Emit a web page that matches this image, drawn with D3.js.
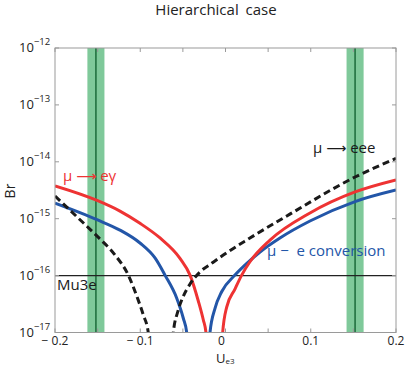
<!DOCTYPE html>
<html><head><meta charset="utf-8">
<script src="https://cdn.jsdelivr.net/npm/d3@7"></script>
<style>body{margin:0;background:#fff}svg{display:block}text{font-family:"Open Sans",sans-serif}</style>
</head><body><svg id="c" width="406" height="367"></svg>
<script>
// ---- data ----
const title = "Hierarchical case";
const xTicksMajor = [-0.2, -0.1, 0, 0.1, 0.2];
const xTickLabels = ["\u2212 0.2", "\u2212 0.1", "0", "0.1", "0.2"];
const xTicksMinor = [-0.2,-0.15,-0.1,-0.05,0,0.05,0.1,0.15,0.2];
const yTickExps = [-12, -13, -14, -15, -16, -17];
const bandCenters = [-0.152, 0.152];
const bandHalfWidth = 0.01;
const mu3eLimit = 1e-16;

// mu -> e gamma (red), two branches
const redLeftU  = [-0.2, -0.15, -0.1238, -0.1003, -0.0768, -0.0534, -0.0416, -0.0319, -0.026, -0.0229, -0.0215];
const redLeftBr = [3.76e-15, 2.07e-15, 1.36e-15, 8.3e-16, 4.58e-16, 2.01e-16, 1.02e-16, 3.58e-17, 1.66e-17, 1.0e-17, 5e-18];
const redRightU  = [-0.0045, -0.0033, 0.0014, 0.0111, 0.019, 0.0287, 0.0522, 0.0991, 0.152, 0.2];
const redRightBr = [5e-18, 1.0e-17, 2.8e-17, 5.8e-17, 1.02e-16, 1.75e-16, 4.2e-16, 1.26e-15, 2.95e-15, 4.8e-15];
// mu - e conversion (blue)
const blueLeftU  = [-0.2, -0.15, -0.1238, -0.1003, -0.0827, -0.071, -0.0572, -0.0495, -0.0455, -0.0442];
const blueLeftBr = [1.87e-15, 9.5e-16, 6.3e-16, 3.74e-16, 2.04e-16, 1.02e-16, 4.0e-17, 1.78e-17, 1.0e-17, 5e-18];
const blueRightU  = [-0.0195, -0.0182, -0.0123, -0.0045, 0.0111, 0.0267, 0.0405, 0.0639, 0.0991, 0.152, 0.2];
const blueRightBr = [5e-18, 1.0e-17, 2.66e-17, 5.2e-17, 1.02e-16, 1.73e-16, 2.6e-16, 4.58e-16, 9.1e-16, 2.0e-15, 3.19e-15];
// mu -> eee (black dashed)
const blackLeftU  = [-0.2, -0.1765, -0.15, -0.1296, -0.114, -0.1042, -0.0964, -0.0906, -0.0893];
const blackLeftBr = [2.5e-15, 1.16e-15, 4.83e-16, 2.3e-16, 1.02e-16, 4.4e-17, 2.03e-17, 1.0e-17, 5e-18];
const blackRightU  = [-0.0625, -0.0612, -0.0557, -0.0499, -0.0416, -0.0299, -0.0158, -0.0026, 0.0287, 0.075, 0.152, 0.2];
const blackRightBr = [5e-18, 1.0e-17, 2.39e-17, 4.2e-17, 7.1e-17, 1.16e-16, 1.66e-16, 2.3e-16, 4.58e-16, 1.19e-15, 5.4e-15, 1.15e-14];

// ---- layout ----
const L = 55, R = 396, T = 48, B = 332.5;
const svg = d3.select("#c");
const x = d3.scaleLinear().domain([-0.2, 0.2]).range([L, R]);
const y = d3.scaleLog().domain([1e-17, 1e-12]).range([B, T]);

svg.append("defs").append("clipPath").attr("id","clip")
  .append("rect").attr("x",L).attr("y",T).attr("width",R-L).attr("height",B-T);

const plot = svg.append("g").attr("clip-path","url(#clip)");

// green bands
bandCenters.forEach(c => {
  plot.append("rect").attr("x", x(c-bandHalfWidth)).attr("y", T)
    .attr("width", x(c+bandHalfWidth)-x(c-bandHalfWidth)).attr("height", B-T)
    .attr("fill", "#7fc99a");
  plot.append("line").attr("x1", x(c)).attr("x2", x(c)).attr("y1", T).attr("y2", B)
    .attr("stroke", "#1b6b3a").attr("stroke-width", 1.5);
});

// Mu3e line
plot.append("line").attr("x1", L).attr("x2", R).attr("y1", y(mu3eLimit)).attr("y2", y(mu3eLimit))
  .attr("stroke", "#222").attr("stroke-width", 1.3);

const line = d3.line().x(d => x(d[0])).y(d => y(d[1])).curve(d3.curveMonotoneX);
function series(us, brs, color, dash) {
  const p = plot.append("path").datum(us.map((u,i)=>[u, brs[i]]))
    .attr("d", line).attr("fill","none").attr("stroke", color).attr("stroke-width", 3);
  if (dash) p.attr("stroke-dasharray", dash);
}
series(blueLeftU, blueLeftBr, "#2356a8");
series(blueRightU, blueRightBr, "#2356a8");
series(redLeftU, redLeftBr, "#ee3333");
series(redRightU, redRightBr, "#ee3333");
series(blackLeftU, blackLeftBr, "#1a1a1a", "7,4");
series(blackRightU, blackRightBr, "#1a1a1a", "7,4");

// frame
const axisColor = "#9a9a9a";
svg.append("rect").attr("x", L).attr("y", T).attr("width", R-L).attr("height", B-T)
  .attr("fill","none").attr("stroke", axisColor).attr("stroke-width", 1);

// ticks
const g = svg.append("g").attr("stroke", axisColor).attr("stroke-width", 1);
xTicksMinor.forEach(v => {
  g.append("line").attr("x1", x(v)).attr("x2", x(v)).attr("y1", B).attr("y2", B-4);
  g.append("line").attr("x1", x(v)).attr("x2", x(v)).attr("y1", T).attr("y2", T+4);
});
yTickExps.forEach(e => {
  const yy = y(Math.pow(10, e));
  g.append("line").attr("x1", L).attr("x2", L+4).attr("y1", yy).attr("y2", yy);
  g.append("line").attr("x1", R).attr("x2", R-4).attr("y1", yy).attr("y2", yy);
});

// y tick labels
yTickExps.forEach(e => {
  const yy = y(Math.pow(10, e));
  const t = svg.append("text").attr("x", 19).attr("y", yy+4).attr("fill","#222").attr("font-size", 13);
  t.append("tspan").text("10");
  t.append("tspan").attr("dy", -7).attr("font-size", 9.5).text("\u2212" + (-e));
});

// x tick labels
xTicksMajor.forEach((v, i) => {
  svg.append("text").attr("x", x(v) - (v === 0 ? 4 : 0)).attr("y", 345).attr("text-anchor","middle")
    .attr("fill","#222").attr("font-size", 12).text(xTickLabels[i]);
});

// axis titles
const xl = svg.append("text").attr("x", 216).attr("y", 362.5).attr("fill","#222").attr("font-size", 13);
xl.append("tspan").text("U");
xl.append("tspan").attr("dy", 1.5).attr("font-size", 8).text("e3");
svg.append("text").attr("transform", "translate(15,191) rotate(-90)").attr("text-anchor","middle")
  .attr("fill","#222").attr("font-size", 14).text("Br");

svg.append("text").attr("x", 216).attr("y", 15).attr("text-anchor","middle")
  .attr("fill","#222").attr("font-size", 15).attr("word-spacing", 3).text(title);

// annotations
function arrowLabel(xp, yp, color, before, after) {
  const t = svg.append("text").attr("x", xp).attr("y", yp).attr("fill", color).attr("font-size", 15);
  t.append("tspan").text(before + " ");
  t.append("tspan").style("font-family", "'DejaVu Sans'").attr("font-size", 14).text("\u27f6");
  t.append("tspan").text(" " + after);
}
arrowLabel(63, 181, "#ee3333", "\u03bc", "e\u03b3");
arrowLabel(313, 153, "#1a1a1a", "\u03bc", "eee");
svg.append("text").attr("x", 267).attr("y", 256).attr("fill","#2356a8").attr("font-size", 15).attr("xml:space","preserve").text("\u03bc \u2212  e conversion");
svg.append("text").attr("x", 57).attr("y", 290).attr("fill","#1a1a1a").attr("font-size", 15).text("Mu3e");
</script></body></html>
